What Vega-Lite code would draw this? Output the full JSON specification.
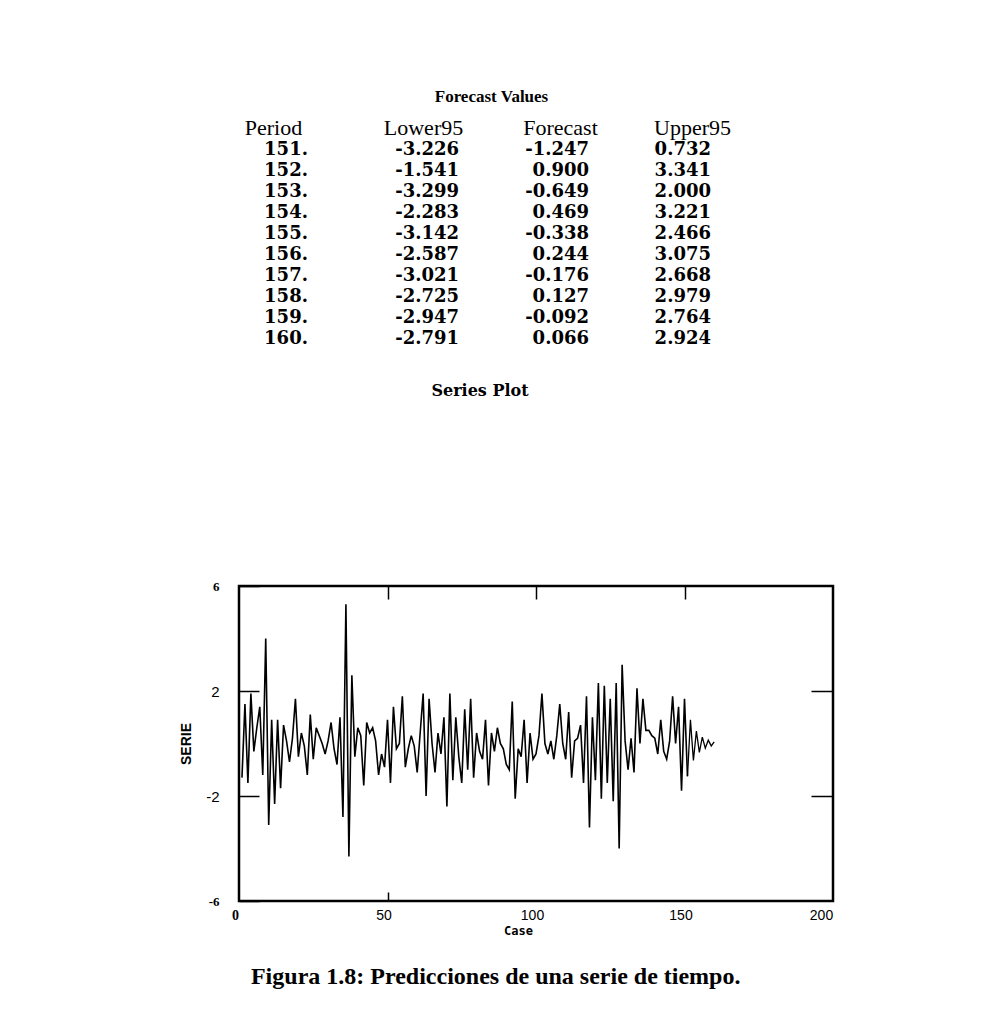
{
  "$schema": "https://vega.github.io/schema/vega-lite/v6.json",
  "background": "white",
  "padding": {"left": 178, "top": 88, "right": 10, "bottom": 10},
  "bounds": "flush",
  "spacing": 237,
  "config": {
    "view": {"stroke": null},
    "axis": {"labelColor": "black", "titleColor": "black", "grid": false},
    "locale": {"number": {"decimal": ".", "thousands": ",", "grouping": [3], "currency": ["$", ""], "minus": "-"}}
  },
  "title": {
    "text": "Figura 1.8: Predicciones de una serie de tiempo.",
    "orient": "bottom",
    "anchor": "middle",
    "font": "Liberation Serif",
    "fontSize": 24,
    "fontWeight": "bold",
    "color": "black",
    "offset": 28,
    "dx": -11
  },
  "datasets": {
    "forecast": [
      {"Period": 151, "Lower95": -3.226, "Forecast": -1.247, "Upper95": 0.732},
      {"Period": 152, "Lower95": -1.541, "Forecast": 0.900, "Upper95": 3.341},
      {"Period": 153, "Lower95": -3.299, "Forecast": -0.649, "Upper95": 2.000},
      {"Period": 154, "Lower95": -2.283, "Forecast": 0.469, "Upper95": 3.221},
      {"Period": 155, "Lower95": -3.142, "Forecast": -0.338, "Upper95": 2.466},
      {"Period": 156, "Lower95": -2.587, "Forecast": 0.244, "Upper95": 3.075},
      {"Period": 157, "Lower95": -3.021, "Forecast": -0.176, "Upper95": 2.668},
      {"Period": 158, "Lower95": -2.725, "Forecast": 0.127, "Upper95": 2.979},
      {"Period": 159, "Lower95": -2.947, "Forecast": -0.092, "Upper95": 2.764},
      {"Period": 160, "Lower95": -2.791, "Forecast": 0.066, "Upper95": 2.924}
    ],
    "series": [
      {"Case": 1, "SERIE": -1.3}, {"Case": 2, "SERIE": 1.5}, {"Case": 3, "SERIE": -1.5}, {"Case": 4, "SERIE": 1.9},
      {"Case": 5, "SERIE": -0.3}, {"Case": 6, "SERIE": 0.6}, {"Case": 7, "SERIE": 1.4}, {"Case": 8, "SERIE": -1.2},
      {"Case": 9, "SERIE": 4.0}, {"Case": 10, "SERIE": -3.1}, {"Case": 11, "SERIE": 0.9}, {"Case": 12, "SERIE": -2.3},
      {"Case": 13, "SERIE": 0.9}, {"Case": 14, "SERIE": -1.7}, {"Case": 15, "SERIE": 0.7}, {"Case": 16, "SERIE": 0.1},
      {"Case": 17, "SERIE": -0.7}, {"Case": 18, "SERIE": 0.2}, {"Case": 19, "SERIE": 1.7}, {"Case": 20, "SERIE": -0.5},
      {"Case": 21, "SERIE": 0.4}, {"Case": 22, "SERIE": -0.1}, {"Case": 23, "SERIE": -1.2}, {"Case": 24, "SERIE": 1.1},
      {"Case": 25, "SERIE": -0.6}, {"Case": 26, "SERIE": 0.6}, {"Case": 27, "SERIE": 0.3}, {"Case": 28, "SERIE": 0.0},
      {"Case": 29, "SERIE": -0.4}, {"Case": 30, "SERIE": 0.1}, {"Case": 31, "SERIE": 0.8}, {"Case": 32, "SERIE": -0.2},
      {"Case": 33, "SERIE": -0.8}, {"Case": 34, "SERIE": 1.0}, {"Case": 35, "SERIE": -2.8}, {"Case": 36, "SERIE": 5.3},
      {"Case": 37, "SERIE": -4.3}, {"Case": 38, "SERIE": 2.6}, {"Case": 39, "SERIE": -0.5}, {"Case": 40, "SERIE": 0.6},
      {"Case": 41, "SERIE": 0.3}, {"Case": 42, "SERIE": -1.6}, {"Case": 43, "SERIE": 0.8}, {"Case": 44, "SERIE": 0.4},
      {"Case": 45, "SERIE": 0.6}, {"Case": 46, "SERIE": 0.1}, {"Case": 47, "SERIE": -1.2}, {"Case": 48, "SERIE": -0.4},
      {"Case": 49, "SERIE": -0.9}, {"Case": 50, "SERIE": 0.9}, {"Case": 51, "SERIE": -1.5}, {"Case": 52, "SERIE": 1.4},
      {"Case": 53, "SERIE": -0.2}, {"Case": 54, "SERIE": 0.0}, {"Case": 55, "SERIE": 1.8}, {"Case": 56, "SERIE": -0.9},
      {"Case": 57, "SERIE": -0.2}, {"Case": 58, "SERIE": 0.3}, {"Case": 59, "SERIE": -0.1}, {"Case": 60, "SERIE": -1.1},
      {"Case": 61, "SERIE": 0.4}, {"Case": 62, "SERIE": 1.9}, {"Case": 63, "SERIE": -2.0}, {"Case": 64, "SERIE": 1.7},
      {"Case": 65, "SERIE": 0.0}, {"Case": 66, "SERIE": -1.1}, {"Case": 67, "SERIE": 0.4}, {"Case": 68, "SERIE": -0.4},
      {"Case": 69, "SERIE": 1.0}, {"Case": 70, "SERIE": -2.4}, {"Case": 71, "SERIE": 1.9}, {"Case": 72, "SERIE": -1.4},
      {"Case": 73, "SERIE": 1.0}, {"Case": 74, "SERIE": -0.5}, {"Case": 75, "SERIE": -1.5}, {"Case": 76, "SERIE": 1.3},
      {"Case": 77, "SERIE": -1.0}, {"Case": 78, "SERIE": 1.7}, {"Case": 79, "SERIE": -1.3}, {"Case": 80, "SERIE": 0.4},
      {"Case": 81, "SERIE": -0.3}, {"Case": 82, "SERIE": -0.6}, {"Case": 83, "SERIE": 0.9}, {"Case": 84, "SERIE": -1.6},
      {"Case": 85, "SERIE": 0.4}, {"Case": 86, "SERIE": -0.3}, {"Case": 87, "SERIE": 0.6}, {"Case": 88, "SERIE": 0.0},
      {"Case": 89, "SERIE": -0.2}, {"Case": 90, "SERIE": -0.8}, {"Case": 91, "SERIE": -1.0}, {"Case": 92, "SERIE": 1.6},
      {"Case": 93, "SERIE": -2.1}, {"Case": 94, "SERIE": -0.2}, {"Case": 95, "SERIE": -0.5}, {"Case": 96, "SERIE": 0.9},
      {"Case": 97, "SERIE": -1.5}, {"Case": 98, "SERIE": 0.4}, {"Case": 99, "SERIE": -0.6}, {"Case": 100, "SERIE": -0.4},
      {"Case": 101, "SERIE": 0.3}, {"Case": 102, "SERIE": 1.9}, {"Case": 103, "SERIE": 0.0}, {"Case": 104, "SERIE": -0.4},
      {"Case": 105, "SERIE": 0.1}, {"Case": 106, "SERIE": -0.6}, {"Case": 107, "SERIE": 0.3}, {"Case": 108, "SERIE": 1.5},
      {"Case": 109, "SERIE": 0.0}, {"Case": 110, "SERIE": -0.6}, {"Case": 111, "SERIE": 1.2}, {"Case": 112, "SERIE": -1.3},
      {"Case": 113, "SERIE": 0.1}, {"Case": 114, "SERIE": 0.2}, {"Case": 115, "SERIE": 0.7}, {"Case": 116, "SERIE": -1.5},
      {"Case": 117, "SERIE": 1.8}, {"Case": 118, "SERIE": -3.2}, {"Case": 119, "SERIE": 1.0}, {"Case": 120, "SERIE": -1.4},
      {"Case": 121, "SERIE": 2.3}, {"Case": 122, "SERIE": -2.1}, {"Case": 123, "SERIE": 2.2}, {"Case": 124, "SERIE": -1.5},
      {"Case": 125, "SERIE": 1.7}, {"Case": 126, "SERIE": -2.2}, {"Case": 127, "SERIE": 2.3}, {"Case": 128, "SERIE": -4.0},
      {"Case": 129, "SERIE": 3.0}, {"Case": 130, "SERIE": 0.1}, {"Case": 131, "SERIE": -1.0}, {"Case": 132, "SERIE": 0.2},
      {"Case": 133, "SERIE": -1.1}, {"Case": 134, "SERIE": 2.1}, {"Case": 135, "SERIE": 0.0}, {"Case": 136, "SERIE": 1.7},
      {"Case": 137, "SERIE": 0.5}, {"Case": 138, "SERIE": 0.5}, {"Case": 139, "SERIE": 0.3}, {"Case": 140, "SERIE": 0.2},
      {"Case": 141, "SERIE": -0.4}, {"Case": 142, "SERIE": 0.9}, {"Case": 143, "SERIE": -0.3}, {"Case": 144, "SERIE": -0.6},
      {"Case": 145, "SERIE": 0.1}, {"Case": 146, "SERIE": 1.8}, {"Case": 147, "SERIE": 0.0}, {"Case": 148, "SERIE": 1.4},
      {"Case": 149, "SERIE": -1.8}, {"Case": 150, "SERIE": 1.7}, {"Case": 151, "SERIE": -1.247}
    ]
  },
  "vconcat": [
    {
      "width": 501,
      "height": 210,
      "data": {"name": "forecast"},
      "title": {
        "text": "Forecast Values",
        "font": "Liberation Serif",
        "fontSize": 17,
        "fontWeight": "bold",
        "color": "black",
        "offset": 10,
        "dx": 2
      },
      "encoding": {
        "y": {"field": "Period", "type": "ordinal", "scale": {"type": "point", "padding": 0.5}, "axis": null}
      },
      "layer": [
        {
          "transform": [{"calculate": "datum.Period + '.'", "as": "PeriodLabel"}],
          "mark": {"type": "text", "font": "DejaVu Serif", "fontWeight": "bold", "fontSize": 18, "baseline": "middle", "align": "center", "dx": 2, "color": "black"},
          "encoding": {
            "x": {
              "datum": "Period", "type": "nominal",
              "scale": {"type": "point", "domain": ["Period", "Lower95", "Forecast", "Upper95"], "padding": 0.3285},
              "axis": {
                "orient": "top", "title": null, "ticks": false, "domain": false, "labelAngle": 0,
                "labelFont": "Liberation Serif", "labelFontSize": 22, "labelFontWeight": "normal",
                "labelPadding": 12, "labelBaseline": "middle", "labelColor": "black",
                "labelOffset": {"condition": [{"test": "datum.value == 'Period'", "value": -11}, {"test": "datum.value == 'Upper95'", "value": -3}], "value": 2}
              }
            },
            "text": {"field": "PeriodLabel", "type": "nominal"}
          }
        },
        {
          "mark": {"type": "text", "font": "DejaVu Serif", "fontWeight": "bold", "fontSize": 18, "baseline": "middle", "align": "right", "dx": 38, "color": "black"},
          "encoding": {
            "x": {"datum": "Lower95", "type": "nominal"},
            "text": {"field": "Lower95", "type": "quantitative", "format": ".3f"}
          }
        },
        {
          "mark": {"type": "text", "font": "DejaVu Serif", "fontWeight": "bold", "fontSize": 18, "baseline": "middle", "align": "right", "dx": 31, "color": "black"},
          "encoding": {
            "x": {"datum": "Forecast", "type": "nominal"},
            "text": {"field": "Forecast", "type": "quantitative", "format": ".3f"}
          }
        },
        {
          "mark": {"type": "text", "font": "DejaVu Serif", "fontWeight": "bold", "fontSize": 18, "baseline": "middle", "align": "right", "dx": 16, "color": "black"},
          "encoding": {
            "x": {"datum": "Upper95", "type": "nominal"},
            "text": {"field": "Upper95", "type": "quantitative", "format": ".3f"}
          }
        }
      ]
    },
    {
      "width": 594,
      "height": 315,
      "view": {"stroke": "black", "strokeWidth": 2.5},
      "title": {
        "text": "Series Plot",
        "font": "DejaVu Serif",
        "fontSize": 16,
        "fontWeight": "bold",
        "color": "black",
        "offset": 181,
        "dx": -56
      },
      "layer": [
        {
          "data": {"name": "series"},
          "mark": {"type": "line", "color": "black", "strokeWidth": 1.6},
          "encoding": {
            "x": {
              "field": "Case", "type": "quantitative",
              "scale": {"domain": [0, 200], "nice": false, "zero": false},
              "axis": {
                "orient": "bottom", "values": [0, 50, 100, 150, 200], "title": "Case",
                "titleFont": "DejaVu Sans Mono", "titleFontSize": 12, "titleFontWeight": "bold", "titlePadding": 3, "titleX": 279,
                "domain": false, "grid": false, "tickSize": -9, "tickWidth": 1.5, "tickColor": "black",
                "tickOpacity": {"condition": {"test": "datum.value == 50", "value": 1}, "value": 0},
                "labelPadding": 16, "labelFontSize": 14, "labelFlush": false, "labelOverlap": false,
                "labelOffset": {"condition": {"test": "datum.value == 200", "value": -12}, "value": -4},
                "labelFont": {"condition": {"test": "datum.value == 0", "value": "Liberation Serif"}, "value": "Liberation Sans"},
                "labelFontWeight": {"condition": {"test": "datum.value == 0", "value": "bold"}, "value": "normal"}
              }
            },
            "y": {
              "field": "SERIE", "type": "quantitative",
              "scale": {"domain": [-6, 6], "nice": false},
              "axis": {
                "orient": "left", "values": [-6, -2, 2, 6], "title": "SERIE",
                "titleFont": "Liberation Sans", "titleFontSize": 14, "titleFontWeight": "bold", "titlePadding": 12,
                "domain": false, "grid": false, "tickSize": -20, "tickWidth": 1.5, "tickColor": "black",
                "labelPadding": 40, "labelFlush": false, "labelOverlap": false,
                "labelFont": {"condition": {"test": "abs(datum.value) == 6", "value": "Liberation Serif"}, "value": "Liberation Sans"},
                "labelFontWeight": {"condition": {"test": "abs(datum.value) == 6", "value": "bold"}, "value": "normal"},
                "labelFontSize": {"condition": {"test": "abs(datum.value) == 6", "value": 13}, "value": 15}
              }
            }
          }
        },
        {
          "data": {"name": "forecast"},
          "mark": {"type": "line", "color": "black", "strokeWidth": 1.3},
          "encoding": {
            "x": {
              "field": "Period", "type": "quantitative",
              "scale": {"domain": [0, 200], "nice": false, "zero": false},
              "axis": {"orient": "top", "values": [50, 100, 150], "title": null, "labels": false, "domain": false, "grid": false, "tickSize": -13, "tickWidth": 1.5, "tickColor": "black"}
            },
            "y": {
              "field": "Forecast", "type": "quantitative",
              "scale": {"domain": [-6, 6], "nice": false},
              "axis": {"orient": "right", "values": [-2, 2], "title": null, "labels": false, "domain": false, "grid": false, "tickSize": -22, "tickWidth": 1.5, "tickColor": "black"}
            }
          }
        }
      ]
      ,
      "resolve": {"axis": {"x": "independent", "y": "independent"}}
    }
  ]
}
